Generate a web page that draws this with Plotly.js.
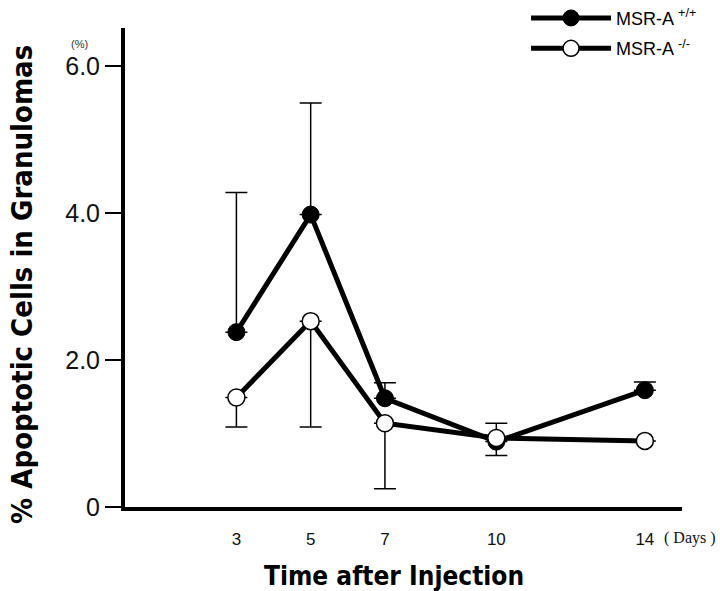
<!DOCTYPE html>
<html>
<head>
<meta charset="utf-8">
<script src="https://cdn.plot.ly/plotly-3.0.1.min.js"></script>
<style>html,body{margin:0;padding:0;background:#fff;}</style>
</head>
<body>
<div id="chart" style="width:720px;height:591px;"></div>
<script>
// Days after injection
var days = [3, 5, 7, 10, 14];
// MSR-A +/+ (filled circles)
var wtMean = [2.38, 3.98, 1.48, 0.89, 1.59];
var wtErrUp = [1.90, 1.52, 0.21, 0.25, 0.11];
var wtErrDown = [0, 0, 0, 0, 0];
// MSR-A -/- (open circles)
var koMean = [1.49, 2.53, 1.14, 0.94, 0.90];
var koErrUp = [0, 0, 0, 0, 0];
var koErrDown = [0.40, 1.44, 0.89, 0.24, 0];
// tick labels
var xTicks = [3, 5, 7, 10, 14];
var xTickText = ['3', '5', '7', '10', '14'];
var yTicks = [0, 2, 4, 6];
var yTickText = ['0', '2.0', '4.0', '6.0'];

var errStyle = {type: 'data', symmetric: false, color: '#000', thickness: 1.5, width: 11};
var titleFont = 'DejaVu Sans Condensed, DejaVu Sans, sans-serif';

var traces = [
  {
    x: days, y: wtMean, name: 'MSR-A <sup>+/+</sup>', legendgroup: 'a',
    type: 'scatter', mode: 'lines+markers',
    line: {color: '#000', width: 5},
    marker: {color: '#000', size: 17, line: {color: '#000', width: 1}},
    error_y: Object.assign({array: wtErrUp, arrayminus: wtErrDown}, errStyle)
  },
  {
    x: days, y: koMean, name: 'MSR-A <sup>-/-</sup>', legendgroup: 'b',
    type: 'scatter', mode: 'lines+markers',
    line: {color: '#000', width: 5},
    marker: {color: '#fff', size: 17, line: {color: '#000', width: 1.5}},
    error_y: Object.assign({array: koErrUp, arrayminus: koErrDown}, errStyle)
  }
];

var layout = {
  width: 720, height: 591,
  margin: {l: 125, r: 38, t: 28, b: 84, autoexpand: false},
  paper_bgcolor: '#fff', plot_bgcolor: '#fff',
  showlegend: true,
  legend: {
    x: 0.72, xanchor: 'left', y: 1.059, yanchor: 'top',
    font: {family: 'Liberation Sans, Arial, sans-serif', size: 18, color: '#000'},
    itemwidth: 80, tracegroupgap: 4, bgcolor: 'rgba(0,0,0,0)'
  },
  xaxis: {
    range: [0, 15], showgrid: false, zeroline: false,
    showline: true, linecolor: '#000', linewidth: 4,
    ticks: '', tickmode: 'array', tickvals: xTicks, ticktext: xTickText,
    tickfont: {family: 'Liberation Sans, Arial, sans-serif', size: 17, color: '#111'},
    ticklabelstandoff: 14
  },
  yaxis: {
    range: [0, 6.52], showgrid: false, zeroline: false,
    showline: true, linecolor: '#000', linewidth: 4,
    ticks: 'outside', ticklen: 16, tickwidth: 2, tickcolor: '#000',
    tickmode: 'array', tickvals: yTicks, ticktext: yTickText,
    tickfont: {family: 'Liberation Sans, Arial, sans-serif', size: 25, color: '#111'}
  },
  annotations: [
    {text: '% Apoptotic Cells in Granulomas', xref: 'paper', yref: 'paper',
     x: -0.185, y: 0.4656, xanchor: 'center', yanchor: 'middle', textangle: -90, showarrow: false,
     font: {family: titleFont, size: 29, color: '#000', weight: 'bold'}},
    {text: 'Time after Injection', xref: 'paper', yref: 'paper',
     x: 0.4838, y: -0.144, xanchor: 'center', yanchor: 'middle', showarrow: false,
     font: {family: titleFont, size: 26, color: '#000', weight: 'bold'}},
    {text: '(%)', xref: 'paper', yref: 'paper',
     x: -0.081, y: 0.9666, xanchor: 'center', yanchor: 'middle', showarrow: false,
     font: {family: 'Liberation Sans, Arial, sans-serif', size: 11, color: '#333'}},
    {text: '( Days )', xref: 'paper', yref: 'paper',
     x: 1.0144, y: -0.0647, xanchor: 'center', yanchor: 'middle', showarrow: false,
     font: {family: 'Liberation Serif, Times New Roman, serif', size: 16, color: '#111'}}
  ]
};

Plotly.newPlot('chart', traces, layout, {displayModeBar: false, staticPlot: true});
</script>
</body>
</html>
